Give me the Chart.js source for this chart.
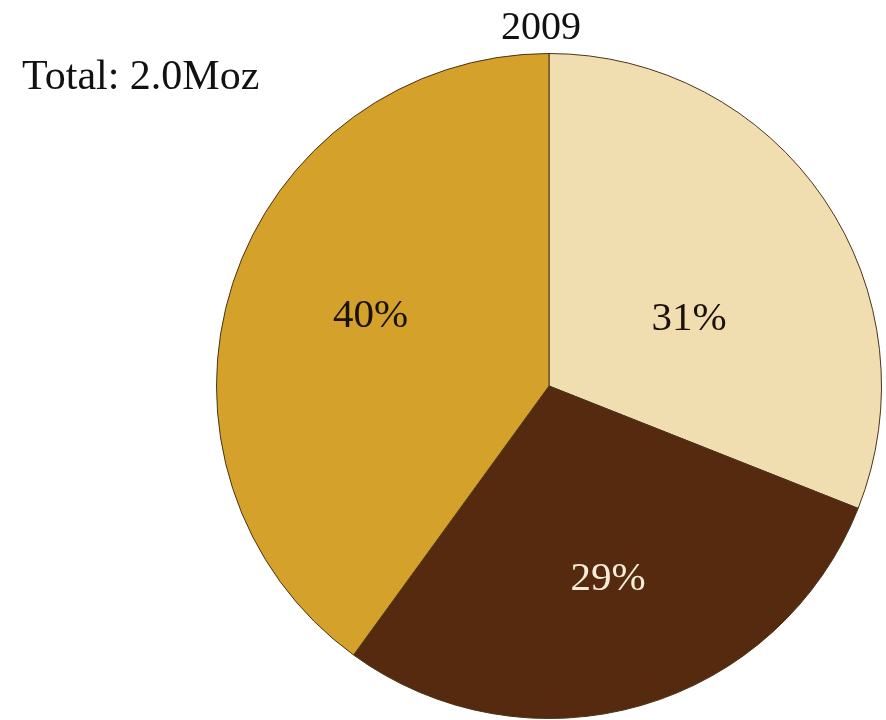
<!DOCTYPE html>
<html>
<head>
<meta charset="utf-8">
<script src="https://cdn.jsdelivr.net/npm/chart.js@4"></script>
<style>
  html, body { margin: 0; padding: 0; background: #ffffff; }
  #wrap { width: 886px; height: 720px; }
</style>
</head>
<body>
<div id="wrap"><canvas id="pie" width="886" height="720"></canvas></div>
<script>
// Share of the 2009 total, clockwise from 12 o'clock
const categories = ['A', 'B', 'C'];
const shares = [31, 29, 40];
const sliceColors = ['#f0ddb0', '#552a0e', '#d4a12b'];
const labelColors = ['#1a1208', '#f7ecd8', '#1a1208'];
const yearLabel = '2009';
const totalLabel = 'Total: 2.0Moz';

// where each percentage sits inside its slice: fraction of the sweep, fraction of the radius
const labelAngleFrac = [0.57, 0.49, 0.53];
const labelRadiusFrac = [0.47, 0.60, 0.58];

const FONT = '"Liberation Serif", "DejaVu Serif", serif';

const textPlugin = {
  id: 'pieText',
  afterDatasetsDraw(chart) {
    const ctx = chart.ctx;
    const meta = chart.getDatasetMeta(0);
    ctx.save();
    ctx.font = '41px ' + FONT;
    ctx.textAlign = 'center';
    ctx.textBaseline = 'middle';
    meta.data.forEach((arc, i) => {
      const p = arc.getProps(['x', 'y', 'startAngle', 'endAngle', 'outerRadius'], true);
      const a = p.startAngle + (p.endAngle - p.startAngle) * labelAngleFrac[i];
      const r = p.outerRadius * labelRadiusFrac[i];
      ctx.fillStyle = labelColors[i];
      ctx.fillText(shares[i] + '%', p.x + Math.cos(a) * r, p.y + Math.sin(a) * r + 3);
    });
    const c = meta.data[0];
    ctx.fillStyle = '#111111';
    ctx.font = '40px ' + FONT;
    ctx.fillText(yearLabel, c.x - 8, 28);
    ctx.textAlign = 'left';
    ctx.font = '42px ' + FONT;
    ctx.fillText(totalLabel, 22, 78);
    ctx.restore();
  }
};

new Chart(document.getElementById('pie'), {
  type: 'pie',
  data: {
    labels: categories,
    datasets: [{
      data: shares,
      backgroundColor: sliceColors,
      borderColor: '#4a3418',
      borderWidth: 1
    }]
  },
  options: {
    responsive: false,
    animation: false,
    layout: { padding: { left: 216, right: 4, top: 53, bottom: 1 } },
    plugins: {
      legend: { display: false },
      tooltip: { enabled: false }
    }
  },
  plugins: [textPlugin]
});
</script>
</body>
</html>
